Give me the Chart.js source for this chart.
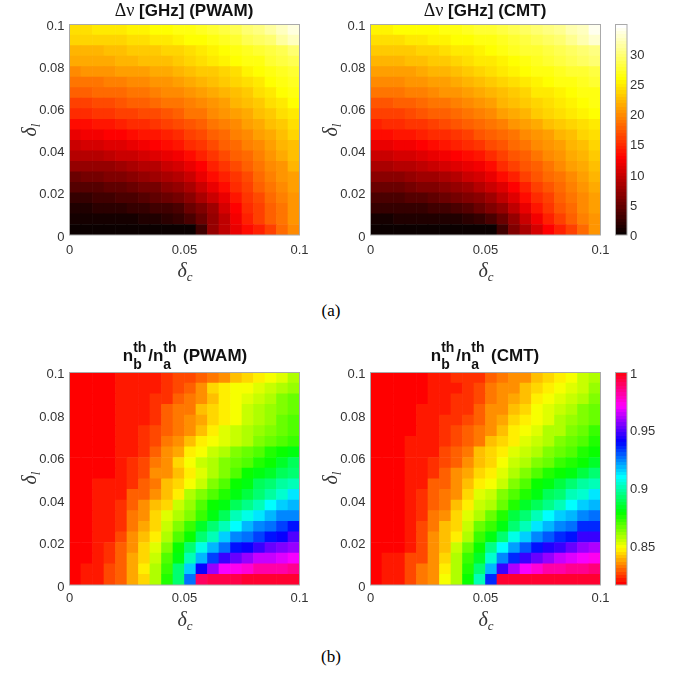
<!DOCTYPE html>
<html>
<head>
<meta charset="utf-8">
<script src="https://cdn.jsdelivr.net/npm/chart.js@4/dist/chart.umd.min.js"></script>
<style>
  html, body { margin: 0; background: #fff; }
  body { position: relative; width: 680px; height: 673px; overflow: hidden; }
  canvas { position: absolute; }
  .t { position: absolute; white-space: nowrap; transform: translate(-50%, -50%); color: #111; }
  .title { font: bold 17px "Liberation Sans", sans-serif; }
  .title .g { font-family: "Liberation Serif", serif; font-weight: normal; font-size: 18px; }
  .lab { font: italic 20px "Liberation Serif", serif; color: #333; }
  .lab sub { font-size: 13px; vertical-align: -4px; line-height: 0; }
  .rot { transform: translate(-50%, -50%) rotate(-90deg); }
  .cap { font: 17px "Liberation Serif", serif; color: #000; }
  .ss { display: inline-block; position: relative; width: 15px; height: 10px; }
  .ss b { position: absolute; left: 0; font-size: 14px; line-height: 14px; }
  .ss .up { top: -11px; }
  .ss .dn { top: 6px; }
</style>
</head>
<body>
<canvas id="c1"></canvas>
<canvas id="c2"></canvas>
<canvas id="cb1"></canvas>
<canvas id="c3"></canvas>
<canvas id="c4"></canvas>
<canvas id="cb2"></canvas>

<div class="t title" style="left:184px;top:10px"><span class="g">Δν</span> [GHz] (PWAM)</div>
<div class="t title" style="left:485px;top:10px"><span class="g">Δν</span> [GHz] (CMT)</div>
<div class="t title" style="left:185px;top:356px">n<span class="ss"><b class="up">th</b><b class="dn">b</b></span>/n<span class="ss"><b class="up">th</b><b class="dn">a</b></span> (PWAM)</div>
<div class="t title" style="left:485px;top:356px">n<span class="ss"><b class="up">th</b><b class="dn">b</b></span>/n<span class="ss"><b class="up">th</b><b class="dn">a</b></span> (CMT)</div>

<div class="t lab" style="left:185px;top:270px">δ<sub>c</sub></div>
<div class="t lab" style="left:486px;top:270px">δ<sub>c</sub></div>
<div class="t lab" style="left:185px;top:619px">δ<sub>c</sub></div>
<div class="t lab" style="left:486px;top:619px">δ<sub>c</sub></div>
<div class="t lab rot" style="left:29px;top:130px">δ<sub>l</sub></div>
<div class="t lab rot" style="left:330px;top:130px">δ<sub>l</sub></div>
<div class="t lab rot" style="left:29px;top:478px">δ<sub>l</sub></div>
<div class="t lab rot" style="left:330px;top:478px">δ<sub>l</sub></div>

<div class="t cap" style="left:331px;top:311px">(a)</div>
<div class="t cap" style="left:331px;top:657px">(b)</div>

<script>
// rows go from the top of the plot (delta_l = 0.1) down to delta_l = 0
const shiftPwam = [
  [24.4,24.4,24.5,24.6,25.0,25.2,25.5,25.8,26.0,26.2,26.6,27.0,27.5,28.0,28.6,29.5,30.3,31.2,32.3,33.6],
  [23.5,23.5,23.6,23.7,23.9,24.0,24.3,24.5,24.7,25.3,25.6,26.0,26.4,26.9,27.5,28.3,29.0,29.9,31.0,32.2],
  [22.0,22.1,22.2,22.5,22.7,22.9,23.0,23.3,23.5,23.8,24.3,24.8,25.2,25.9,26.4,27.0,27.5,28.2,28.8,29.4],
  [21.3,21.4,21.5,21.7,21.9,22.1,22.3,22.5,22.8,23.2,23.6,24.1,24.5,25.1,25.7,26.1,26.6,27.2,27.9,28.6],
  [20.1,20.2,20.4,20.6,20.8,21.0,21.2,21.5,21.7,22.0,22.5,22.9,23.3,23.8,24.4,25.1,25.8,26.3,26.9,27.7],
  [18.8,18.9,19.0,19.2,19.5,19.8,20.0,20.3,20.6,21.0,21.4,21.9,22.3,22.9,23.5,24.2,24.9,25.6,26.2,27.0],
  [17.8,17.9,18.0,18.2,18.4,18.7,18.9,19.3,19.6,20.0,20.5,20.9,21.5,22.1,22.7,23.2,24.0,24.9,25.7,26.5],
  [16.2,16.3,16.6,16.8,17.2,17.5,17.8,18.2,18.6,19.0,19.4,20.0,20.5,21.2,21.8,22.5,23.2,24.0,24.9,25.8],
  [15.0,15.1,15.3,15.5,15.8,16.1,16.4,16.8,17.2,17.7,18.5,19.0,19.6,20.2,21.0,21.6,22.4,23.2,24.0,25.0],
  [13.3,13.5,13.9,14.1,14.4,14.7,15.0,15.4,15.8,16.4,17.1,17.9,18.6,19.3,20.0,20.7,21.6,22.4,23.3,24.2],
  [11.8,12.0,12.3,12.6,13.0,13.3,13.6,14.0,14.6,15.2,16.0,16.8,17.6,18.4,19.2,20.0,20.8,21.7,22.5,23.4],
  [10.3,10.4,10.6,11.0,11.3,11.6,12.0,12.6,13.1,13.8,14.8,15.7,16.6,17.4,18.3,19.2,20.1,21.0,21.8,22.8],
  [8.8,9.0,9.1,9.6,9.9,10.2,10.6,11.1,11.7,12.4,13.4,14.5,15.5,16.4,17.4,18.3,19.3,20.2,21.4,22.3],
  [7.1,7.2,7.3,7.6,8.0,8.3,8.7,9.2,9.9,10.6,11.7,13.0,14.4,15.5,16.5,17.5,18.5,19.6,20.6,21.8],
  [5.4,5.7,5.8,6.1,6.5,6.8,7.2,7.7,8.3,9.2,10.3,11.5,13.1,14.5,15.6,16.8,18.0,19.1,20.2,21.2],
  [3.9,4.1,4.2,4.5,4.8,5.2,5.5,5.9,6.6,7.5,8.4,9.8,11.5,13.4,14.7,16.1,17.5,18.6,19.8,20.8],
  [2.7,2.7,2.8,3.0,3.3,3.6,3.9,4.4,5.0,5.7,6.7,8.3,10.0,11.9,13.6,15.3,16.8,18.2,19.4,20.6],
  [1.6,1.6,1.7,1.7,2.1,2.2,2.3,2.9,3.2,3.7,4.9,6.3,8.1,10.6,13.0,14.7,16.2,17.7,19.0,20.4],
  [0.9,0.9,0.9,0.9,0.9,1.0,1.1,1.4,1.7,2.4,3.3,5.0,7.2,9.5,12.1,14.2,15.9,17.4,18.8,20.2],
  [0.2,0.2,0.2,0.2,0.2,0.2,0.2,0.2,0.2,0.2,0.2,3.0,7.1,9.7,11.5,13.1,14.5,16.1,18.1,20.1]
];
const shiftCmt = [
  [25.5,25.5,25.6,25.6,25.8,26.0,26.3,26.6,26.9,27.2,27.6,28.0,28.4,28.9,29.4,30.0,30.8,31.6,32.6,33.9],
  [24.2,24.2,24.4,24.5,24.9,25.1,25.3,25.7,26.0,26.2,26.6,27.0,27.5,28.0,28.5,29.2,29.9,30.7,31.6,32.7],
  [23.0,23.0,23.1,23.3,23.6,23.8,24.2,24.6,25.0,25.5,25.9,26.2,26.7,27.2,27.7,28.0,28.6,29.1,29.6,30.2],
  [21.8,21.9,22.1,22.3,22.6,22.9,23.2,23.6,24.0,24.5,25.0,25.5,26.0,26.5,26.9,27.2,27.8,28.3,28.9,29.5],
  [20.8,20.8,21.0,21.2,21.5,21.8,22.2,22.6,23.0,23.5,24.0,24.6,25.1,25.7,26.1,26.4,26.8,27.2,27.6,28.2],
  [19.7,19.7,19.9,20.2,20.4,20.8,21.2,21.6,22.0,22.5,23.1,23.7,24.2,24.8,25.4,25.7,26.1,26.4,26.8,27.2],
  [18.5,18.6,18.8,19.2,19.5,19.8,20.2,20.6,21.0,21.6,22.2,22.8,23.3,23.9,24.6,25.0,25.5,25.9,26.2,26.5],
  [17.2,17.3,17.5,17.9,18.3,18.6,19.0,19.5,20.0,20.5,21.2,21.8,22.4,23.1,23.8,24.3,24.9,25.4,25.8,26.2],
  [16.0,16.1,16.3,16.6,17.0,17.4,17.8,18.3,18.8,19.3,20.0,20.7,21.5,22.2,23.0,23.5,24.2,24.9,25.5,26.0],
  [14.6,14.7,15.0,15.3,15.7,16.1,16.5,17.0,17.5,18.1,18.8,19.5,20.2,20.9,21.6,22.3,23.0,23.7,24.3,24.9],
  [13.3,13.4,13.7,14.0,14.4,14.8,15.2,15.7,16.2,16.9,17.6,18.3,19.0,19.7,20.5,21.2,22.0,22.7,23.4,24.0],
  [11.6,11.8,12.0,12.4,12.8,13.2,13.6,14.2,14.9,15.6,16.4,17.2,18.0,18.8,19.6,20.4,21.2,22.0,22.8,23.5],
  [10.0,10.2,10.5,10.8,11.2,11.6,12.1,12.7,13.4,14.1,15.1,16.1,17.0,17.9,18.8,19.6,20.5,21.3,22.2,23.0],
  [8.4,8.5,8.8,9.2,9.5,9.9,10.4,11.0,11.6,12.4,13.5,14.8,15.9,16.9,17.9,18.9,19.8,20.7,21.5,22.3],
  [6.6,6.8,7.0,7.3,7.7,8.1,8.6,9.2,9.9,10.8,11.9,13.2,14.6,15.8,17.0,18.0,19.0,20.0,20.9,21.8],
  [5.0,5.1,5.3,5.6,6.0,6.4,6.8,7.3,8.0,8.9,10.0,11.4,13.0,14.6,15.9,17.1,18.3,19.4,20.5,21.5],
  [3.5,3.6,3.8,4.0,4.3,4.7,5.0,5.5,6.1,7.0,8.1,9.6,11.3,13.1,14.8,16.2,17.6,18.9,20.1,21.1],
  [2.2,2.3,2.4,2.5,2.7,3.0,3.2,3.6,4.2,5.0,6.0,7.6,9.6,11.7,13.7,15.4,17.0,18.4,19.7,20.9],
  [1.0,1.0,1.1,1.1,1.2,1.3,1.3,1.6,1.9,2.6,3.6,5.2,7.5,10.0,12.4,14.6,16.3,17.9,19.3,20.6],
  [0.2,0.2,0.2,0.2,0.2,0.2,0.2,0.2,0.2,0.2,0.2,2.8,6.1,8.4,10.6,12.6,14.5,16.1,18.3,20.4]
];
const ratioPwam = [
  [.816,.816,.816,.816,.819,.819,.820,.820,.823,.825,.827,.829,.832,.835,.839,.843,.846,.850,.853,.857],
  [.816,.816,.816,.816,.819,.819,.820,.820,.822,.827,.830,.835,.842,.845,.848,.850,.853,.855,.858,.860],
  [.816,.816,.816,.816,.819,.819,.820,.822,.822,.829,.831,.835,.841,.845,.850,.853,.855,.857,.862,.865],
  [.816,.816,.816,.817,.820,.820,.820,.822,.828,.831,.833,.840,.844,.847,.850,.854,.858,.860,.864,.867],
  [.816,.816,.816,.818,.819,.820,.821,.823,.829,.831,.834,.837,.842,.847,.850,.854,.857,.861,.865,.868],
  [.816,.816,.816,.818,.819,.820,.822,.825,.828,.832,.836,.841,.845,.851,.854,.858,.860,.864,.867,.870],
  [.816,.816,.816,.818,.819,.820,.823,.826,.831,.836,.839,.846,.848,.853,.856,.859,.864,.867,.870,.873],
  [.816,.816,.816,.818,.819,.821,.824,.828,.834,.837,.845,.850,.854,.858,.862,.865,.870,.874,.877,.880],
  [.816,.816,.816,.818,.820,.823,.827,.833,.836,.843,.849,.854,.858,.862,.867,.870,.874,.878,.883,.888],
  [.816,.816,.818,.818,.821,.823,.826,.834,.836,.841,.846,.853,.858,.864,.870,.877,.880,.883,.888,.893],
  [.816,.816,.819,.819,.821,.824,.830,.833,.839,.844,.848,.854,.864,.869,.877,.882,.888,.893,.897,.901],
  [.816,.816,.819,.819,.821,.828,.830,.836,.841,.847,.857,.862,.869,.875,.881,.887,.893,.898,.905,.911],
  [.816,.816,.819,.821,.823,.829,.834,.840,.844,.854,.860,.868,.877,.881,.889,.895,.902,.908,.915,.918],
  [.816,.816,.819,.821,.824,.831,.836,.842,.851,.857,.864,.873,.881,.889,.900,.907,.912,.918,.923,.925],
  [.816,.816,.819,.821,.824,.832,.837,.844,.854,.863,.871,.883,.892,.902,.908,.917,.923,.928,.933,.938],
  [.816,.816,.819,.821,.827,.834,.840,.847,.857,.870,.877,.892,.902,.915,.923,.926,.933,.939,.942,.949],
  [.816,.816,.819,.822,.828,.834,.843,.851,.862,.877,.891,.907,.917,.928,.937,.942,.948,.952,.955,.959],
  [.816,.816,.819,.822,.829,.837,.843,.854,.870,.881,.902,.919,.931,.946,.954,.957,.963,.965,.967,.970],
  [.816,.819,.819,.826,.829,.837,.845,.857,.873,.891,.915,.942,.959,.969,.973,.976,.980,.981,.982,.983],
  [.816,.819,.819,.826,.829,.837,.844,.857,.874,.893,.926,.989,.993,.994,.994,.995,.995,.996,.996,.996]
];
const ratioCmt = [
  [.816,.816,.816,.818,.818,.821,.821,.823,.823,.824,.828,.831,.834,.836,.840,.843,.846,.850,.854,.858],
  [.817,.817,.818,.818,.818,.820,.820,.821,.823,.826,.831,.834,.836,.839,.843,.846,.850,.853,.856,.860],
  [.817,.817,.818,.818,.818,.820,.821,.822,.823,.827,.833,.835,.837,.841,.846,.848,.852,.855,.858,.863],
  [.817,.817,.818,.818,.819,.820,.821,.822,.824,.828,.835,.836,.840,.843,.848,.852,.855,.858,.862,.865],
  [.817,.817,.818,.818,.819,.820,.822,.824,.826,.830,.835,.837,.842,.846,.849,.853,.857,.860,.864,.867],
  [.817,.817,.818,.818,.819,.821,.823,.825,.828,.832,.836,.840,.845,.848,.853,.857,.859,.863,.867,.871],
  [.817,.817,.818,.819,.820,.821,.824,.826,.830,.833,.839,.842,.847,.852,.855,.858,.862,.866,.870,.874],
  [.817,.817,.818,.819,.821,.821,.825,.829,.832,.839,.842,.847,.851,.855,.859,.863,.866,.870,.875,.879],
  [.817,.817,.818,.819,.821,.823,.827,.830,.835,.841,.844,.850,.854,.859,.862,.866,.871,.875,.879,.884],
  [.816,.816,.818,.819,.821,.823,.829,.834,.838,.844,.846,.851,.857,.863,.868,.875,.877,.881,.885,.891],
  [.816,.816,.818,.819,.821,.829,.830,.836,.841,.847,.850,.856,.864,.870,.877,.880,.885,.891,.898,.901],
  [.816,.816,.818,.820,.824,.828,.833,.836,.844,.851,.854,.862,.868,.876,.882,.888,.893,.900,.905,.911],
  [.816,.816,.818,.820,.824,.828,.833,.839,.847,.854,.859,.867,.875,.883,.889,.895,.902,.908,.915,.919],
  [.816,.816,.818,.820,.824,.831,.836,.842,.851,.859,.865,.874,.885,.893,.900,.908,.914,.919,.923,.928],
  [.816,.816,.818,.820,.827,.831,.839,.844,.854,.867,.871,.882,.893,.902,.912,.918,.923,.928,.934,.936],
  [.816,.816,.818,.820,.827,.834,.840,.847,.859,.873,.881,.893,.906,.915,.923,.930,.936,.939,.946,.948],
  [.816,.816,.818,.820,.827,.834,.841,.854,.865,.877,.894,.908,.921,.930,.939,.945,.948,.953,.957,.960],
  [.816,.819,.819,.826,.827,.836,.844,.857,.871,.884,.905,.923,.936,.948,.954,.959,.965,.968,.970,.972],
  [.816,.819,.819,.826,.831,.836,.845,.859,.875,.893,.919,.948,.962,.971,.977,.980,.982,.983,.984,.987],
  [.816,.819,.819,.826,.831,.836,.850,.859,.877,.900,.934,.996,.996,.996,.996,.996,.996,.996,.996,.996]
];

const cellLabels = ["0.0025","0.0075","0.0125","0.0175","0.0225","0.0275","0.0325","0.0375","0.0425","0.0475",
  "0.0525","0.0575","0.0625","0.0675","0.0725","0.0775","0.0825","0.0875","0.0925","0.0975"];
const cellHeight = 0.005;
const axisMax = 0.1;
const xTicks = [0, 0.05, 0.1];
const yTicks = [0, 0.02, 0.04, 0.06, 0.08, 0.1];
const shiftRange = [0, 34.8];
const ratioRange = [0.816, 1];
const shiftBarTicks = [0, 5, 10, 15, 20, 25, 30];
const ratioBarTicks = [0.85, 0.9, 0.95, 1];

const tickFont = { family: "'Liberation Sans', sans-serif", size: 13 };
const tickColor = "#333";
const frameColor = "#aaa";

// matlab style colormaps, 64 levels
function hot(t) {
  const i = Math.min(63, Math.floor(t * 64)) + 1;
  const r = Math.min(1, i / 24);
  const g = Math.min(1, Math.max(0, (i - 24) / 24));
  const b = Math.max(0, (i - 48) / 16);
  return `rgb(${Math.round(r * 255)},${Math.round(g * 255)},${Math.round(b * 255)})`;
}
function hsv(t) {
  const i = Math.min(63, Math.floor(t * 64));
  return `hsl(${(i / 64) * 360},100%,50%)`;
}

const frame = {
  id: "frame",
  afterDraw(chart) {
    const a = chart.chartArea, ctx = chart.ctx;
    ctx.save();
    ctx.strokeStyle = frameColor;
    ctx.lineWidth = 1;
    ctx.strokeRect(a.left, a.top, a.right - a.left, a.bottom - a.top);
    ctx.restore();
  },
};

function place(id, box, w, h) {
  const el = document.getElementById(id);
  el.width = w;
  el.height = h;
  el.style.left = box.x + "px";
  el.style.top = box.y + "px";
  return el;
}

// tick labels may hang past the plot, keep the plot box where it was put
function noOverhang(s) {
  s.paddingLeft = s.paddingRight = s.paddingTop = s.paddingBottom = 0;
}

function heatmap(id, matrix, cmap, range, area) {
  const left = 50, top = 12, bottom = 30, right = 12;
  const box = { x: Math.floor(area.x - left), y: Math.floor(area.y - top) };
  const el = place(id, box, Math.ceil(area.w + left + right), Math.ceil(area.h + top + bottom));
  const leftPad = area.x - box.x;
  const topPad = area.y - box.y;
  const datasets = matrix.slice().reverse().map((row) => ({
    data: row.map(() => cellHeight),
    backgroundColor: row.map((v) => cmap((v - range[0]) / (range[1] - range[0]))),
    borderWidth: 0,
    barPercentage: 1,
    categoryPercentage: 1,
    xAxisID: "x",
    yAxisID: "y",
  }));
  new Chart(el, {
    type: "bar",
    data: { labels: cellLabels, datasets },
    plugins: [frame],
    options: {
      responsive: false,
      animation: false,
      layout: { padding: { top: topPad, left: 0, right: el.width - leftPad - area.w, bottom: 0 } },
      plugins: { legend: { display: false }, tooltip: { enabled: false } },
      scales: {
        x: { display: false, stacked: true },
        dc: {
          type: "linear", position: "bottom", axis: "x", min: 0, max: axisMax, offset: false,
          border: { display: false },
          grid: { display: false, drawTicks: false, offset: false },
          afterBuildTicks: (s) => { s.ticks = xTicks.map((value) => ({ value })); },
          afterFit: (s) => { noOverhang(s); s.height = el.height - topPad - area.h; },
          ticks: { font: tickFont, color: tickColor, padding: area.tickGap, maxRotation: 0, callback: (v) => String(v) },
        },
        y: {
          stacked: true, min: 0, max: axisMax,
          border: { display: false },
          grid: { display: false, drawTicks: false },
          afterBuildTicks: (s) => { s.ticks = yTicks.map((value) => ({ value })); },
          afterFit: (s) => { noOverhang(s); s.width = leftPad; },
          ticks: { font: tickFont, color: tickColor, padding: 5, labelOffset: 2, callback: (v) => String(v) },
        },
      },
    },
  });
}

function colorbar(id, cmap, range, ticks, area) {
  const right = 40, top = 12, bottom = 12;
  const box = { x: Math.floor(area.x), y: Math.floor(area.y - top) };
  const el = place(id, box, Math.ceil(area.w + right), Math.ceil(area.h + top + bottom));
  const topPad = area.y - box.y;
  const leftPad = area.x - box.x;
  new Chart(el, {
    type: "bar",
    data: {
      labels: ["c"],
      datasets: [{
        data: [range],
        barPercentage: 1,
        categoryPercentage: 1,
        borderWidth: 0,
        backgroundColor: (ctx) => {
          const a = ctx.chart.chartArea;
          if (!a) return "#000";
          const g = ctx.chart.ctx.createLinearGradient(0, a.bottom, 0, a.top);
          for (let i = 0; i < 64; i++) {
            g.addColorStop(i / 64, cmap(i / 64));
            g.addColorStop((i + 1) / 64, cmap(i / 64));
          }
          return g;
        },
      }],
    },
    plugins: [frame],
    options: {
      responsive: false,
      animation: false,
      layout: { padding: { top: topPad, left: leftPad, right: 0, bottom: el.height - topPad - area.h } },
      plugins: { legend: { display: false }, tooltip: { enabled: false } },
      scales: {
        x: { display: false },
        y: {
          position: "right", min: range[0], max: range[1],
          border: { display: false },
          grid: { display: false, drawTicks: false },
          afterBuildTicks: (s) => { s.ticks = ticks.map((value) => ({ value })); },
          afterFit: (s) => { noOverhang(s); s.width = el.width - leftPad - area.w; },
          ticks: { font: tickFont, color: tickColor, padding: 3, labelOffset: 1.5, callback: (v) => String(v) },
        },
      },
    },
  });
}

heatmap("c1", shiftPwam, hot, shiftRange, { x: 69.5, y: 24.5, w: 230, h: 210.5, tickGap: 8 });
heatmap("c2", shiftCmt, hot, shiftRange, { x: 370.5, y: 24.5, w: 230, h: 210.5, tickGap: 8 });
colorbar("cb1", hot, shiftRange, shiftBarTicks, { x: 615.5, y: 24.5, w: 11.5, h: 210.5 });
heatmap("c3", ratioPwam, hsv, ratioRange, { x: 69.5, y: 372.5, w: 230, h: 212.5, tickGap: 6 });
heatmap("c4", ratioCmt, hsv, ratioRange, { x: 370.5, y: 372.5, w: 230, h: 212.5, tickGap: 6 });
colorbar("cb2", hsv, ratioRange, ratioBarTicks, { x: 615.5, y: 372.5, w: 11.5, h: 212.5 });
</script>
</body>
</html>
